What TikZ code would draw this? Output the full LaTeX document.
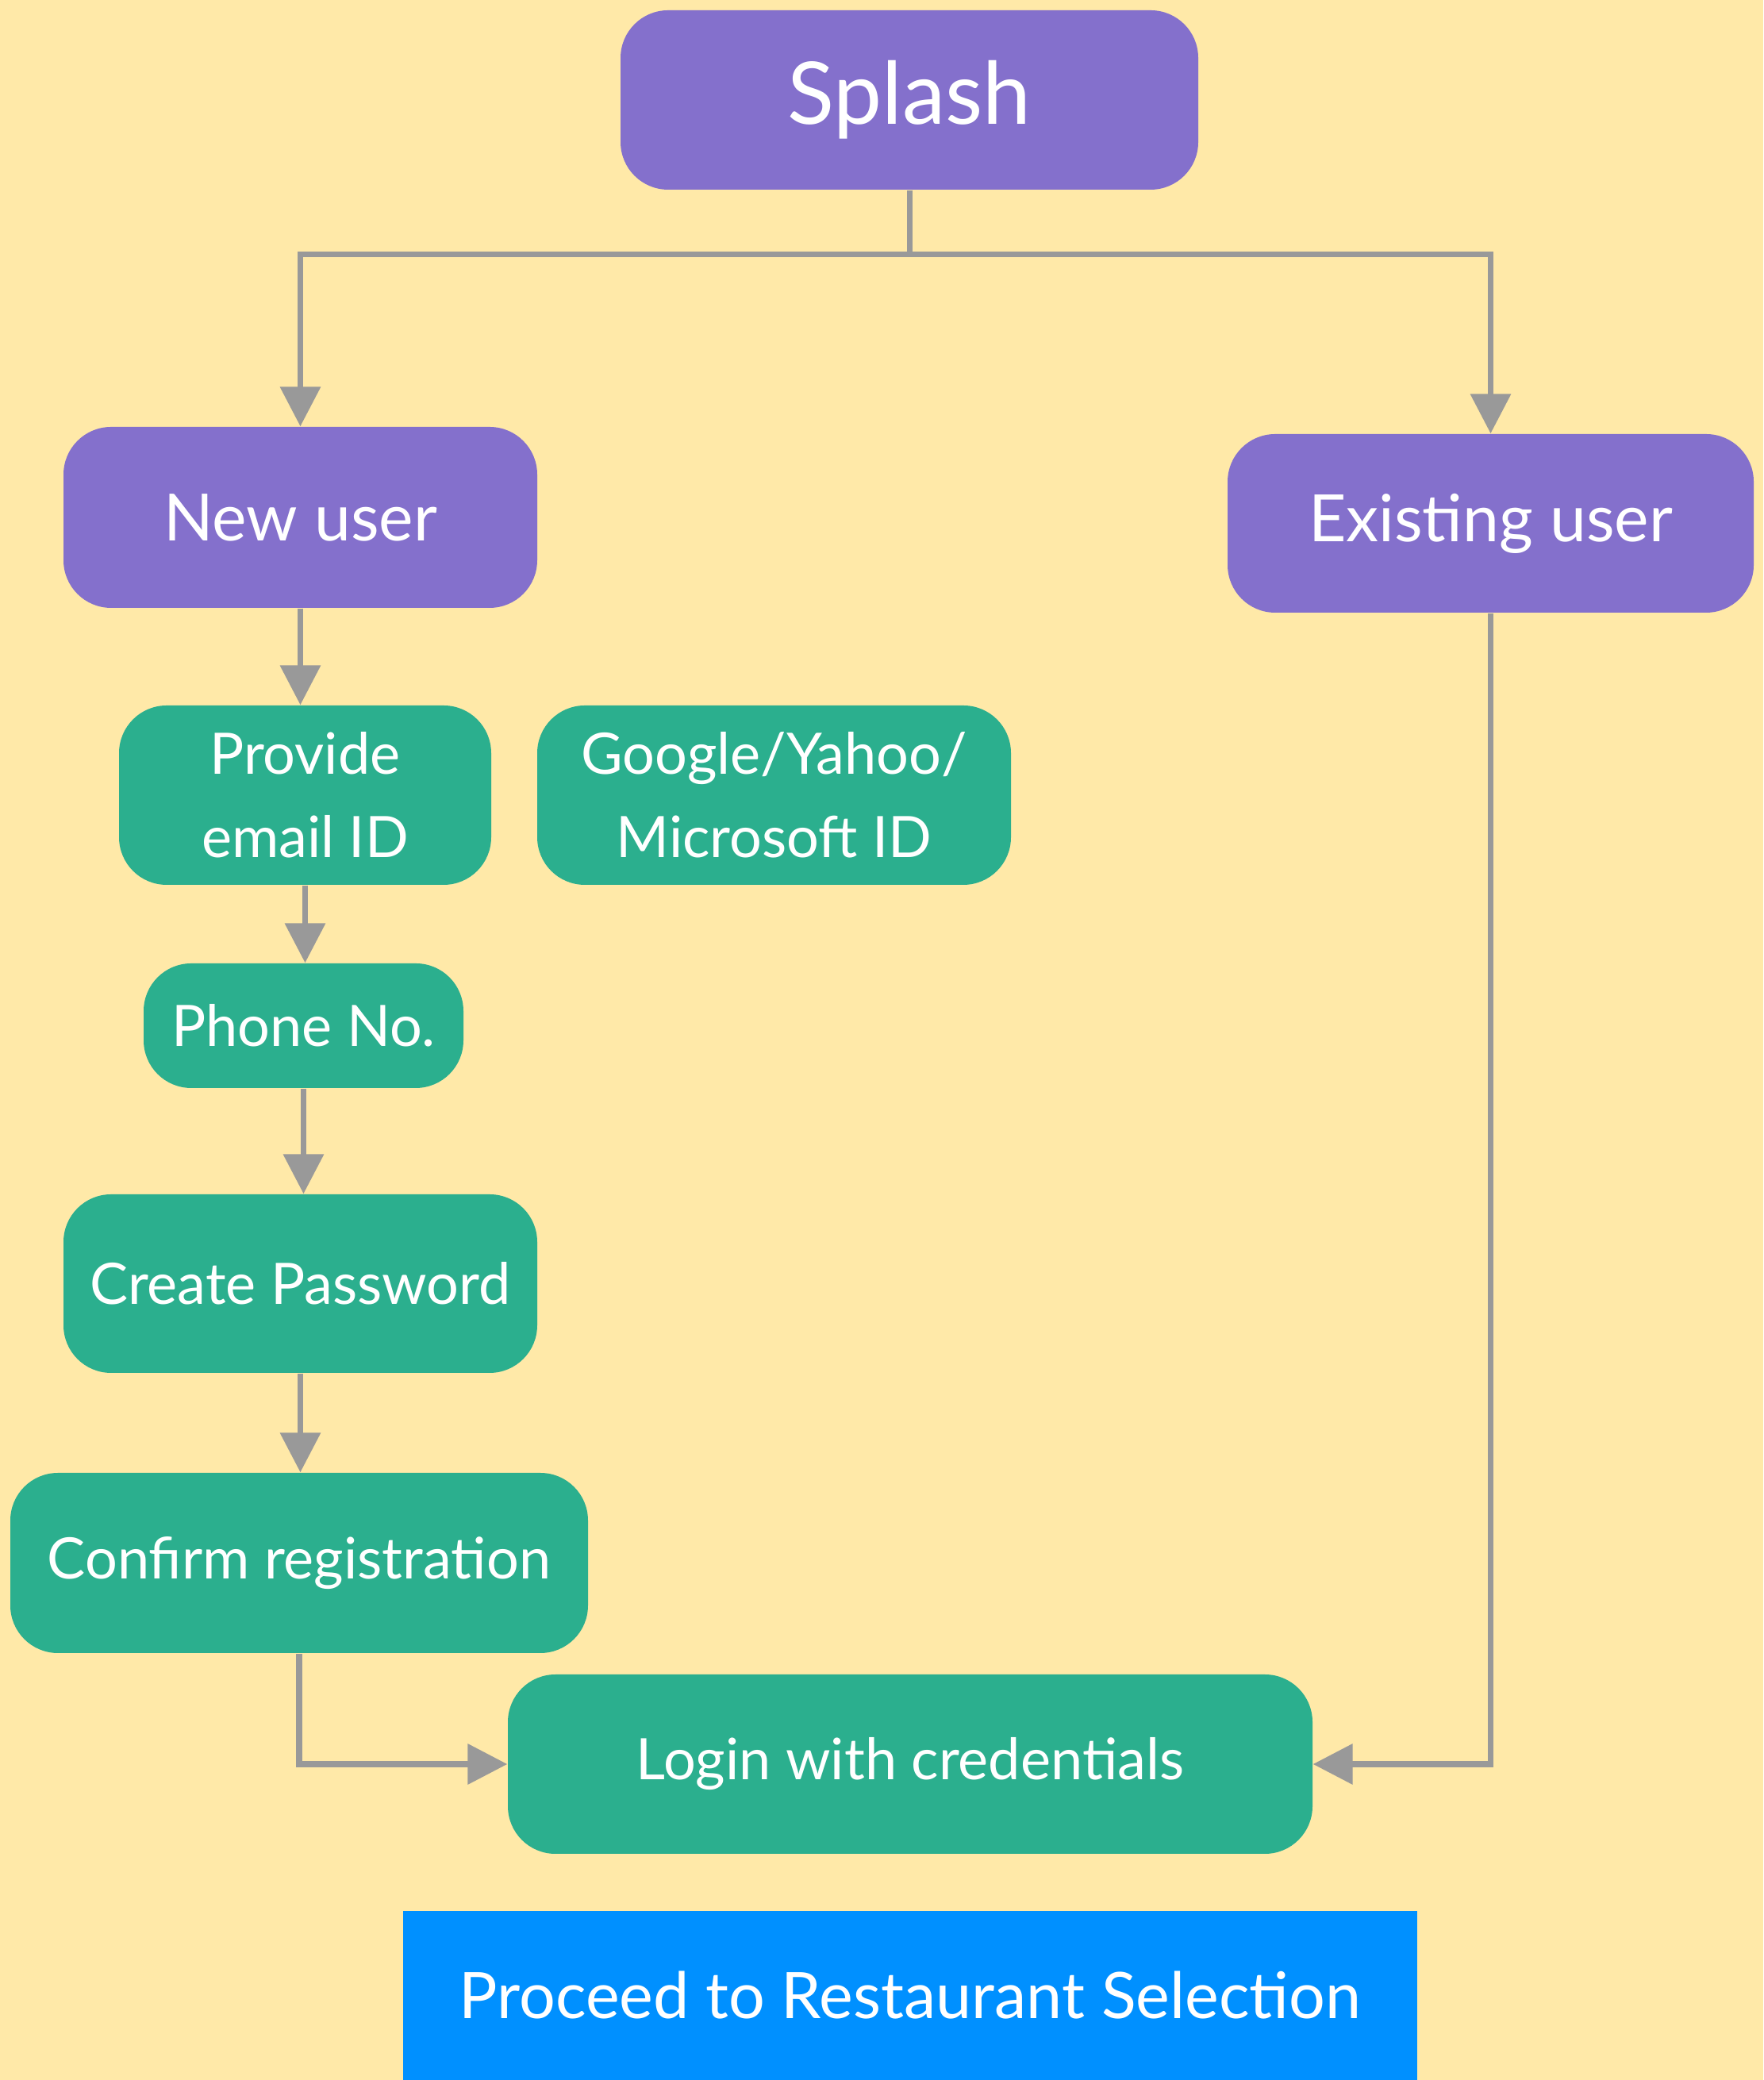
\documentclass[tikz,border=0pt]{standalone}
\usepackage{fontspec}
\setmainfont{Lato}
\usetikzlibrary{arrows.meta}
\definecolor{sand}{HTML}{FFE9A8}
\definecolor{lilac}{HTML}{8470CC}
\definecolor{jade}{HTML}{2BAF8E}
\definecolor{azure}{HTML}{0090FF}
\definecolor{wire}{HTML}{999999}
\begin{document}
\begin{tikzpicture}[
    purplebox/.style={fill=lilac, text=white, rounded corners=0.6cm, inner sep=0pt, align=center},
    greenbox/.style={fill=jade, text=white, rounded corners=0.6cm, inner sep=0pt, align=center,
        font=\fontsize{20.5}{30}\selectfont},
    link/.style={draw=wire, line width=2pt, -{Triangle[length=5mm,width=5mm]}}
    ]
        \useasboundingbox (0,0) rectangle (22.22,26.21);
        \fill[sand](0,0) rectangle (22.22,26.21);
        % top level
        \node[purplebox, minimum width=7.28cm, minimum height=2.26cm, font=\fontsize{31}{36}\selectfont] (splash) at (11.46,24.95) {Splash};
        \node[purplebox, minimum width=5.97cm, minimum height=2.28cm, font=\fontsize{23.4}{28}\selectfont] (newuser) at (3.785,19.69) {New user};
        \node[purplebox, minimum width=6.63cm, minimum height=2.25cm, font=\fontsize{23.4}{28}\selectfont] (existing) at (18.785,19.615) {Existing user};
        % sign up steps
        \node[greenbox, minimum width=4.69cm, minimum height=2.26cm] (email) at (3.845,16.19) {Provide\\email ID};
        \node[greenbox, minimum width=5.97cm, minimum height=2.26cm] (social) at (9.755,16.19) {Google/Yahoo/\\Microsoft ID};
        \node[greenbox, minimum width=4.03cm, minimum height=1.57cm] (phone) at (3.825,13.285) {Phone No.};
        \node[greenbox, minimum width=5.97cm, minimum height=2.25cm] (password) at (3.785,10.035) {Create Password};
        \node[greenbox, minimum width=7.28cm, minimum height=2.27cm] (confirm) at (3.77,6.515) {Confirm registration};
        \node[greenbox, minimum width=10.14cm, minimum height=2.26cm] (login) at (11.47,3.98) {Login with credentials};
        \node[fill=azure, text=white, inner sep=0pt, minimum width=12.78cm, minimum height=2.13cm, font=\fontsize{23}{28}\selectfont] (proceed) at (11.47,1.065) {Proceed to Restaurant Selection};
        % connectors
        \coordinate (fork) at ([yshift=-0.81cm]splash.south);
        \draw[wire, line width=2pt](splash.south)--(fork);
        \draw[link](fork)-|(newuser.north);
        \draw[link](fork)-|(existing.north);
        \draw[link](newuser.south)--(newuser.south |- email.north);
        \draw[link](email.south)--(email.south |- phone.north);
        \draw[link](phone.south)--(phone.south |- password.north);
        \draw[link](password.south)--(password.south |- confirm.north);
        \draw[link](confirm.south)|-(login.west);
        \draw[link](existing.south)|-(login.east);
    \end{tikzpicture}
\end{document}
